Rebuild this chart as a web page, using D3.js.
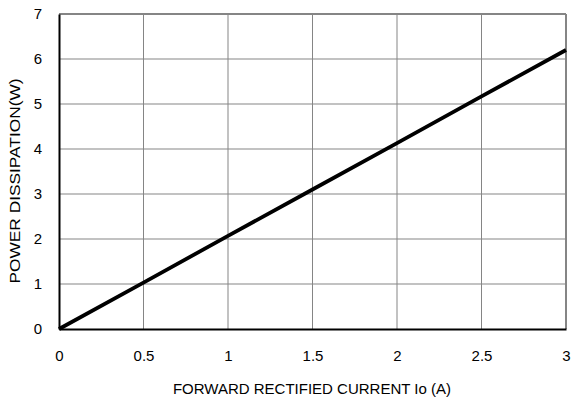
<html>
  <head>
    <meta charset="UTF-8">
    <script src="https://cdnjs.cloudflare.com/ajax/libs/d3/7.8.5/d3.min.js"></script>
    <style>
      body { margin: 0; background: #fff; }
      text { font-family: 'Liberation Sans', Arial, sans-serif; fill: #000; }
    </style>
  </head>
  <body>
    <svg id="chart"></svg>
    <script>
      const current = [0, 0.5, 1, 1.5, 2, 2.5, 3]
      const power = [0, 1.03, 2.07, 3.1, 4.13, 5.17, 6.2]
      const xTicks = [0, 0.5, 1, 1.5, 2, 2.5, 3]
      const yTicks = [0, 1, 2, 3, 4, 5, 6, 7]

      const width = 573
      const height = 403
      const margin = { left: 59, right: 7, top: 14, bottom: 74 }
      const font = "'Liberation Sans', Arial, sans-serif"

      const svg = d3.select('#chart')
        .attr('width', width)
        .attr('height', height)

      const x = d3.scaleLinear().domain([0, 3]).range([margin.left, width - margin.right])
      const y = d3.scaleLinear().domain([0, 7]).range([height - margin.bottom, margin.top])

      // grid
      svg.append('g')
        .selectAll('line')
        .data(xTicks.slice(1, -1))
        .join('line')
        .attr('x1', d => x(d)).attr('x2', d => x(d))
        .attr('y1', y(0)).attr('y2', y(7))
        .attr('stroke', '#858585').attr('stroke-width', 1)

      svg.append('g')
        .selectAll('line')
        .data(yTicks.slice(1, -1))
        .join('line')
        .attr('x1', x(0)).attr('x2', x(3))
        .attr('y1', d => y(d)).attr('y2', d => y(d))
        .attr('stroke', '#858585').attr('stroke-width', 1)

      // frame: top and right gray, left and bottom black
      svg.append('line')
        .attr('x1', x(0)).attr('x2', x(3)).attr('y1', y(7)).attr('y2', y(7))
        .attr('stroke', '#858585').attr('stroke-width', 2)
      svg.append('line')
        .attr('x1', x(3)).attr('x2', x(3)).attr('y1', y(0)).attr('y2', y(7))
        .attr('stroke', '#858585').attr('stroke-width', 2)

      const xAxis = svg.append('g')
        .attr('transform', `translate(0,${y(0)})`)
        .call(d3.axisBottom(x).tickValues(xTicks).tickSize(0).tickPadding(21).tickFormat(d3.format('')))
      xAxis.select('.domain').attr('stroke', '#000').attr('stroke-width', 2)
      xAxis.selectAll('text').style('font-size', '15px').style('font-family', font)

      const yAxis = svg.append('g')
        .attr('transform', `translate(${x(0)},0)`)
        .call(d3.axisLeft(y).tickValues(yTicks).tickSize(0).tickPadding(17).tickFormat(d3.format('d')))
      yAxis.select('.domain').attr('stroke', '#000').attr('stroke-width', 2)
      yAxis.selectAll('text').style('font-size', '15px').style('font-family', font)

      // line
      const line = d3.line()
        .x((d, i) => x(current[i]))
        .y(d => y(d))

      svg.append('path')
        .datum(power)
        .attr('d', line)
        .attr('fill', 'none')
        .attr('stroke', '#000')
        .attr('stroke-width', 3.8)

      // axis titles
      svg.append('text')
        .attr('x', 312)
        .attr('y', 394)
        .attr('text-anchor', 'middle')
        .style('font-size', '15px')
        .text('FORWARD RECTIFIED CURRENT Io (A)')

      svg.append('text')
        .attr('transform', `translate(19.5,181) rotate(-90)`)
        .attr('text-anchor', 'middle')
        .attr('textLength', 205)
        .attr('lengthAdjust', 'spacingAndGlyphs')
        .style('font-size', '14px')
        .text('POWER DISSIPATION(W)')
    </script>
  </body>
</html>
